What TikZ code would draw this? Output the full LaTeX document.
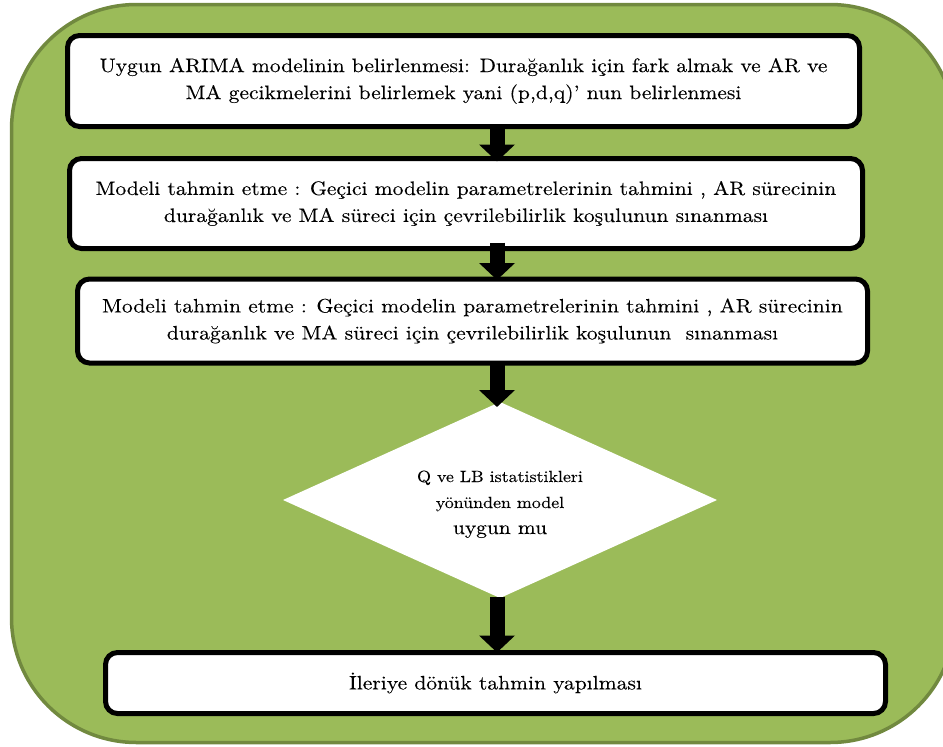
\documentclass[tikz,border=0pt]{standalone}
\usepackage{fontspec}
\setmainfont{lmroman10-regular.otf}[FakeStretch=1.105, FakeBold=0.12]
\usetikzlibrary{shapes.geometric,arrows.meta}
\definecolor{bggreen}{HTML}{9BBB59}
\definecolor{bgborder}{HTML}{71893F}
\begin{document}
\begin{tikzpicture}[x=1pt,y=-1pt,
  stepbox/.style={draw=black, line width=5pt, fill=white, rounded corners=12pt,
    outer sep=0pt, inner sep=0pt, align=center, font=\fontsize{19.5}{27}\selectfont},
  flow/.style={line width=15pt, -{Triangle[length=17pt,width=35pt]}}]
\useasboundingbox (0,0) rectangle (943,747);
\path[fill=bggreen, draw=bgborder, line width=3.5pt, rounded corners=125pt]
  (11.5,4.5) rectangle (955,742.5);
\node[stepbox, minimum width=792pt, minimum height=91pt] (b1) at (463.5,81)
  {Uygun ARIMA modelinin belirlenmesi: Durağanlık için fark almak ve AR ve\\
   MA gecikmelerini belirlemek yani (p,d,q)’ nun belirlenmesi};
\node[stepbox, minimum width=793pt, minimum height=90pt] (b2) at (466,203.5)
  {Modeli tahmin etme : Geçici modelin parametrelerinin tahmini , AR sürecinin\\
   durağanlık ve MA süreci için çevrilebilirlik koşulunun sınanması};
\node[stepbox, minimum width=790pt, minimum height=84pt] (b3) at (472.5,321)
  {Modeli tahmin etme : Geçici modelin parametrelerinin tahmini , AR sürecinin\\
   durağanlık ve MA süreci için çevrilebilirlik koşulunun\ \ sınanması};
\node[diamond, shape aspect=2.2, fill=white, minimum width=434pt, minimum height=196pt,
  inner sep=0pt, outer sep=0pt, align=center, font=\fontsize{16.2}{26}\selectfont]
  (d) at (500,500)
  {\rule{0pt}{20pt}Q ve LB istatistikleri\\
   yönünden model\\
   {\fontsize{19.4}{26}\selectfont uygun mu}};
\node[stepbox, minimum width=780pt, minimum height=61pt] (b4) at (495.5,683)
  {İleriye dönük tahmin yapılması};
\coordinate (ax) at (497,0);
\draw[flow, shorten <=-1pt, shorten >=-3pt] (b1.south -| ax) -- (b2.north -| ax);
\draw[flow, shorten <=-6pt, shorten >=-1pt] (b2.south -| ax) -- (b3.north -| ax);
\draw[flow, shorten <=-2pt, shorten >=-5pt] (b3.south -| ax) -- (d.north -| ax);
\draw[flow, shorten <=-1pt, shorten >=0pt] (d.south -| ax) -- (b4.north -| ax);
\end{tikzpicture}
\end{document}
